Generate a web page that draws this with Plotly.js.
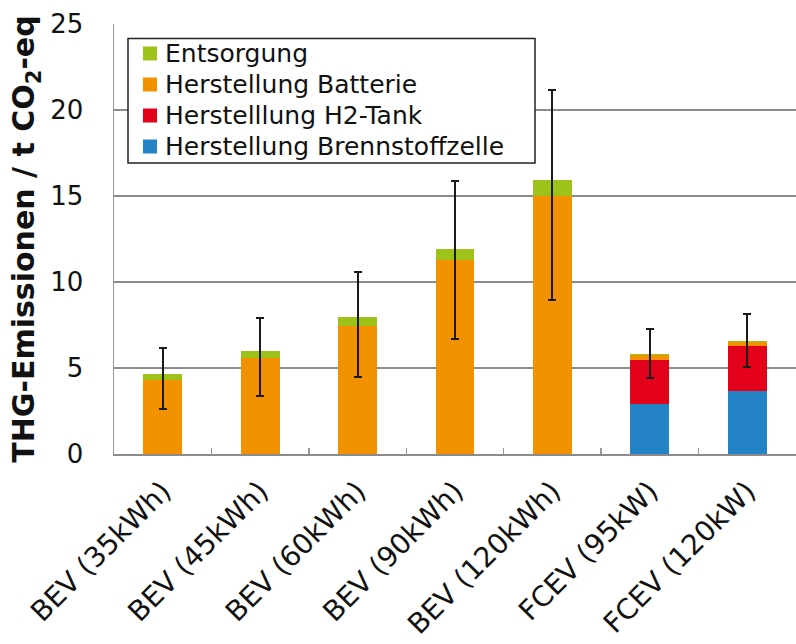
<!DOCTYPE html>
<html>
<head>
<meta charset="utf-8">
<script src="https://cdn.plot.ly/plotly-3.0.1.min.js"></script>
<style>
  html, body { margin: 0; padding: 0; background: #fff; }
  #chart { width: 796px; height: 644px; }
</style>
</head>
<body>
<div id="chart"></div>
<script>
// Vehicle variants on the x axis
const categories = ['BEV (35kWh)', 'BEV (45kWh)', 'BEV (60kWh)', 'BEV (90kWh)',
                    'BEV (120kWh)', 'FCEV (95kW)', 'FCEV (120kW)'];

// GHG emissions per life-cycle component, t CO2-eq (stacked bottom to top)
const brennstoffzelle = [0, 0, 0, 0, 0, 2.93, 3.66];
const h2Tank          = [0, 0, 0, 0, 0, 2.56, 2.60];
const batterie        = [4.33, 5.60, 7.47, 11.26, 15.00, 0.29, 0.26];
const entsorgung      = [0.30, 0.37, 0.50, 0.68, 0.91, 0.05, 0.05];

// Uncertainty range of the total (absolute lower / upper bounds)
const rangeLow  = [2.62, 3.37, 4.48, 6.71, 8.94, 4.42, 5.06];
const rangeHigh = [6.16, 7.93, 10.58, 15.87, 21.15, 7.29, 8.16];

// Series names and colours, listed top-down as in the key
const seriesNames  = ['Entsorgung', 'Herstellung Batterie', 'Herstelllung H2-Tank', 'Herstellung Brennstoffzelle'];
const seriesColors = ['#9dc31b', '#f39200', '#e3001b', '#2383c4'];

const totals = categories.map((_, i) =>
  brennstoffzelle[i] + h2Tank[i] + batterie[i] + entsorgung[i]);
const errPlus  = rangeHigh.map((v, i) => v - totals[i]);
const errMinus = totals.map((t, i) => t - rangeLow[i]);

const FONT = '"DejaVu Sans", "Open Sans", sans-serif';

const W = 796, H = 644;
const M = { l: 114, r: 0, t: 24, b: 190 };
const plotW = W - M.l - M.r;
const plotH = H - M.t - M.b;
// pixel position -> paper fraction (used for the key box)
const px = x => (x - M.l) / plotW;
const py = y => (H - M.b - y) / plotH;

function barTrace(idx, values) {
  return {
    type: 'bar',
    name: seriesNames[idx],
    x: categories,
    y: values,
    marker: { color: seriesColors[idx], line: { width: 0 } },
    hoverinfo: 'x+y+name',
    showlegend: false
  };
}

const traces = [
  barTrace(3, brennstoffzelle),
  barTrace(2, h2Tank),
  barTrace(1, batterie),
  Object.assign(barTrace(0, entsorgung), {
    error_y: {
      type: 'data',
      symmetric: false,
      array: errPlus,
      arrayminus: errMinus,
      color: '#1a1a1a',
      thickness: 2,
      width: 4
    }
  })
];

// Key: framed box with coloured squares and labels
const key = { left: 128, top: 38.5, right: 535, bottom: 163, row0: 53.5, rowStep: 31,
              sqX: 143, sq: 14, textX: 163 };
const shapes = [{
  type: 'rect', xref: 'paper', yref: 'paper', layer: 'above',
  x0: px(key.left), x1: px(key.right), y0: py(key.bottom), y1: py(key.top),
  fillcolor: '#ffffff', line: { color: '#222222', width: 1.5 }
}];
const annotations = [];
seriesNames.forEach((name, i) => {
  const cy = key.row0 + i * key.rowStep;
  shapes.push({
    type: 'rect', xref: 'paper', yref: 'paper', layer: 'above',
    x0: px(key.sqX), x1: px(key.sqX + key.sq),
    y0: py(cy + key.sq / 2), y1: py(cy - key.sq / 2),
    fillcolor: seriesColors[i], line: { width: 0 }
  });
  annotations.push({
    xref: 'paper', yref: 'paper', x: px(key.textX), y: py(cy),
    xanchor: 'left', yanchor: 'middle', showarrow: false,
    text: name, font: { family: FONT, size: 25, color: '#111111' }
  });
});

const layout = {
  width: W,
  height: H,
  margin: M,
  paper_bgcolor: '#ffffff',
  plot_bgcolor: '#ffffff',
  font: { family: FONT, color: '#111111' },
  barmode: 'stack',
  bargap: 0.6,
  showlegend: false,
  shapes: shapes,
  annotations: annotations,
  xaxis: {
    type: 'category',
    tickangle: -45,
    tickfont: { family: FONT, size: 28, color: '#111111' },
    ticklabelstandoff: 8,
    ticks: 'inside',
    tickson: 'boundaries',
    ticklen: 6,
    tickcolor: '#999999',
    tickwidth: 1.5,
    showline: true,
    linecolor: '#8c8c8c',
    linewidth: 1.5,
    showgrid: false,
    zeroline: false,
    automargin: false
  },
  yaxis: {
    range: [0, 25],
    dtick: 5,
    tick0: 0,
    tickfont: { family: FONT, size: 26, color: '#111111' },
    ticks: '',
    ticklabelstandoff: 24,
    showline: true,
    linecolor: '#999999',
    linewidth: 1.5,
    showgrid: true,
    gridcolor: '#8c8c8c',
    gridwidth: 1.5,
    zeroline: false,
    automargin: false,
    title: {
      text: 'THG-Emissionen / t CO<sub>2</sub>-eq',
      font: { family: FONT, size: 30, color: '#111111', weight: 'bold' },
      standoff: 6
    }
  }
};

Plotly.newPlot('chart', traces, layout, { staticPlot: true, displayModeBar: false });
</script>
</body>
</html>
